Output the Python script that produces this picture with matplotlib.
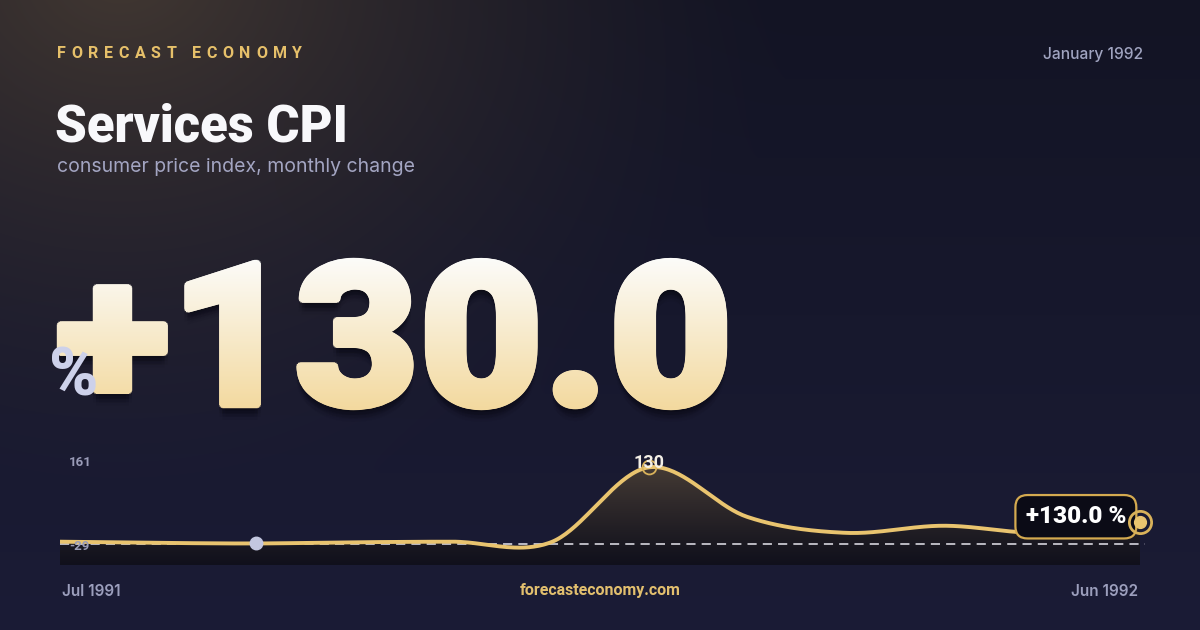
import numpy as np
import matplotlib
matplotlib.use("Agg")
import matplotlib.pyplot as plt
from matplotlib.textpath import TextPath
from matplotlib.patches import PathPatch, Polygon
from matplotlib.font_manager import FontProperties
from matplotlib.transforms import Affine2D

plt.rcParams['font.family'] = ['Inter', 'DejaVu Sans']

# data
months = ["Jul 1991", "Aug 1991", "Sep 1991", "Oct 1991", "Nov 1991", "Dec 1991",
          "Jan 1992", "Feb 1992", "Mar 1992", "Apr 1992", "May 1992", "Jun 1992"]
values = [4, 2, 1, 3, 4, 3, 130, 46, 19, 31, 19, 38]
y_min, y_max = -29, 161
headline = "+130.0"
badge = "+130.0 %"
peak_label = "130"

GOLD = "#e9c46f"
HEAVY = ["Roboto", "DejaVu Sans"]
W, H = 1200, 630

fig = plt.figure(figsize=(12, 6.3), dpi=100)
renderer = fig.canvas.get_renderer()

# background
bg = fig.add_axes([0, 0, 1, 1])
bg.set_xlim(0, W)
bg.set_ylim(H, 0)
bg.axis("off")
yy, xx = np.mgrid[0:H, 0:W]
top = np.array([0x13, 0x14, 0x24]) / 255
bot = np.array([0x1b, 0x1c, 0x36]) / 255
t = (yy / H)[..., None]
img = top + (bot - top) * t
d = np.sqrt((xx - 120) ** 2 + ((yy + 30) * 1.25) ** 2)
glow = (np.clip(1 - d / 680, 0, 1) ** 1.4)[..., None]
warm = np.array([0x42, 0x38, 0x32]) / 255
img = img + (warm - img) * glow
bg.imshow(img, extent=(0, W, H, 0), aspect="auto", zorder=0)

# header: letter-spaced brand
brand = "FORECAST ECONOMY"
chars = []
for ch in brand:
    tx = bg.text(0, 53, ch, color="#e6c06a", fontsize=11.5, fontweight="bold",
                 family=HEAVY, va="center", ha="left")
    chars.append(tx)
widths = [c.get_window_extent(renderer).width for c in chars]
track = (245 - sum(widths[:-1]) - widths[-1]) / (len(brand) - 1)
bx = 57
for c, w in zip(chars, widths):
    c.set_x(bx)
    bx += w + track

bg.text(55, 141, "Services CPI", color="#f8f8fb", fontsize=36.5, fontweight="black",
        family=HEAVY, va="baseline", ha="left")
bg.text(57, 167, "consumer price index, monthly change", color="#a3a5c2",
        fontsize=14, va="center", ha="left")
bg.text(1143, 54, "January 1992", color="#a0a4c0", fontsize=11.2, va="center",
        ha="right", fontweight="medium")

# big headline number with gradient
fp = FontProperties(family="Roboto", weight="black")
tp = TextPath((0, 0), headline, size=100, prop=fp)
ext = tp.get_extents()
x0, x1, ytop, ybot = 60, 724, 261, 407
tr = (Affine2D().translate(-ext.x0, -ext.y0)
      .scale((x1 - x0) / ext.width, -(ybot - ytop) / ext.height)
      .translate(x0, ybot))
path = tr.transform_path(tp)
for k, a in [(12, 0.05), (8, 0.07), (5, 0.09)]:
    for dx, dy in [(-3, 0), (3, 0), (0, -3), (0, 3)]:
        sh = PathPatch(Affine2D().translate(dx, k + dy).transform_path(path),
                       fc="#05050c", ec="none", alpha=a, zorder=2)
        bg.add_patch(sh)
c_top = np.array([0xfc, 0xfc, 0xfa]) / 255
c_bot = np.array([0xf3, 0xd9, 0x9e]) / 255
g = np.linspace(0, 1, 256)[:, None, None]
grad = c_top + (c_bot - c_top) * g
ang = np.linspace(0, 2 * np.pi, 12, endpoint=False)
offsets = [(0, 0)] + [(3.2 * np.cos(a), 3.2 * np.sin(a)) for a in ang]
for dx, dy in offsets:
    p = PathPatch(Affine2D().translate(dx, dy).transform_path(path), fc="none",
                  ec="none", zorder=3)
    bg.add_patch(p)
    im = bg.imshow(grad, extent=(x0 - 5, x1 + 5, ybot + 4, ytop - 4),
                   aspect="auto", zorder=3)
    im.set_clip_path(p)
bg.text(49, 377, "%", color="#cdd1ea", fontsize=48, fontweight="black",
        family=HEAVY, va="center", ha="left", zorder=4)

# footer
bg.text(62, 591, months[0], color="#9c9fbd", fontsize=11, fontweight="semibold",
        va="center", ha="left")
bg.text(1138, 591, months[-1], color="#9c9fbd", fontsize=11, fontweight="semibold",
        va="center", ha="right")
bg.text(600, 591, "forecasteconomy.com", color="#e2bf6e", fontsize=11.5,
        fontweight="bold", family=HEAVY, va="center", ha="center")

# chart
ax = fig.add_axes([60 / W, (H - 565) / H, 1080 / W, 116 / H])
ax.patch.set_alpha(0)
ax.axis("off")
n = len(values)
xs = np.arange(n)
ylo, yhi = -35.5, 161


def catmull_rom(x, y, steps=40):
    p = np.column_stack([x, y]).astype(float)
    p = np.vstack([p[0], p, p[-1]])
    out = []
    for i in range(1, len(p) - 2):
        p0, p1, p2, p3 = p[i - 1], p[i], p[i + 1], p[i + 2]
        m1 = (p2 - p0) / 2
        m2 = (p3 - p1) / 2
        s = np.linspace(0, 1, steps, endpoint=False)[:, None]
        h00 = 2 * s**3 - 3 * s**2 + 1
        h10 = s**3 - 2 * s**2 + s
        h01 = -2 * s**3 + 3 * s**2
        h11 = s**3 - s**2
        out.append(h00 * p1 + h10 * m1 + h01 * p2 + h11 * m2)
    out.append(p[-2][None, :])
    c = np.vstack(out)
    return c[:, 0], c[:, 1]


cx, cy = catmull_rom(xs, values)
poly = Polygon(np.column_stack([np.r_[cx, cx[-1], cx[0]], np.r_[cy, ylo, ylo]]),
               closed=True, fc="none", ec="none")
ax.add_patch(poly)
f_top = np.array([0x55, 0x48, 0x3c]) / 255
f_bot = np.array([0x10, 0x10, 0x1c]) / 255
fg = np.linspace(0, 1, 256)[:, None, None] ** 0.8
fgrad = f_top + (f_bot - f_top) * fg
fim = ax.imshow(fgrad, extent=(0, n - 1, ylo, yhi), aspect="auto", zorder=1,
                origin="upper")
fim.set_clip_path(poly)
ax.set_xlim(0, n - 1)
ax.set_ylim(ylo, yhi)

ax.plot([0, n - 1 + 0.05], [0, 0], color="#e6e6ee", lw=1.1, ls=(0, (6, 4)),
        zorder=2, clip_on=False)
ax.plot(cx, cy, color=GOLD, lw=2.8, zorder=3, solid_capstyle="butt", clip_on=False)

imin = int(np.argmin(values))
imax = int(np.argmax(values))
ax.plot(xs[imin], values[imin], "o", ms=9, color="#c3c7e0", zorder=4, clip_on=False)
ax.plot(xs[imax], values[imax], "o", ms=10, mfc="none", mec="#d9b25a", mew=1.3,
        zorder=4, clip_on=False)
ax.annotate(peak_label, (xs[imax], values[imax]), xytext=(0, 3),
            textcoords="offset points", ha="center", va="center", color="#f3efe6",
            fontsize=13, fontweight="bold", family=HEAVY, zorder=5)

ax.annotate(badge, (xs[-1], values[-1]), xytext=(-10, 3.5),
            textcoords="offset points", ha="right", va="center", color="white",
            fontsize=17.5, fontweight="black", family=HEAVY, zorder=5,
            bbox=dict(boxstyle="round,pad=0.42,rounding_size=0.5", fc="#0b0b16",
                      ec="#d4aa50", lw=1.6))
ax.plot(xs[-1], values[-1], "o", ms=16, mfc="none", mec="#d9b25a", mew=2,
        zorder=6, clip_on=False)
ax.plot(xs[-1], values[-1], "o", ms=8.5, color=GOLD, zorder=7, clip_on=False)

ax.text(9 / 1080, (565 - 462) / 116, str(y_max), transform=ax.transAxes,
        color="#9a9cb8", fontsize=9.5, fontweight="bold", family=HEAVY,
        va="center", ha="left", zorder=5)
ax.text(9 / 1080, (565 - 547) / 116, str(y_min), transform=ax.transAxes,
        color="#9a9cb8", fontsize=9.5, fontweight="bold", family=HEAVY,
        va="center", ha="left", zorder=5)

fig.savefig("out.png", dpi=100)
